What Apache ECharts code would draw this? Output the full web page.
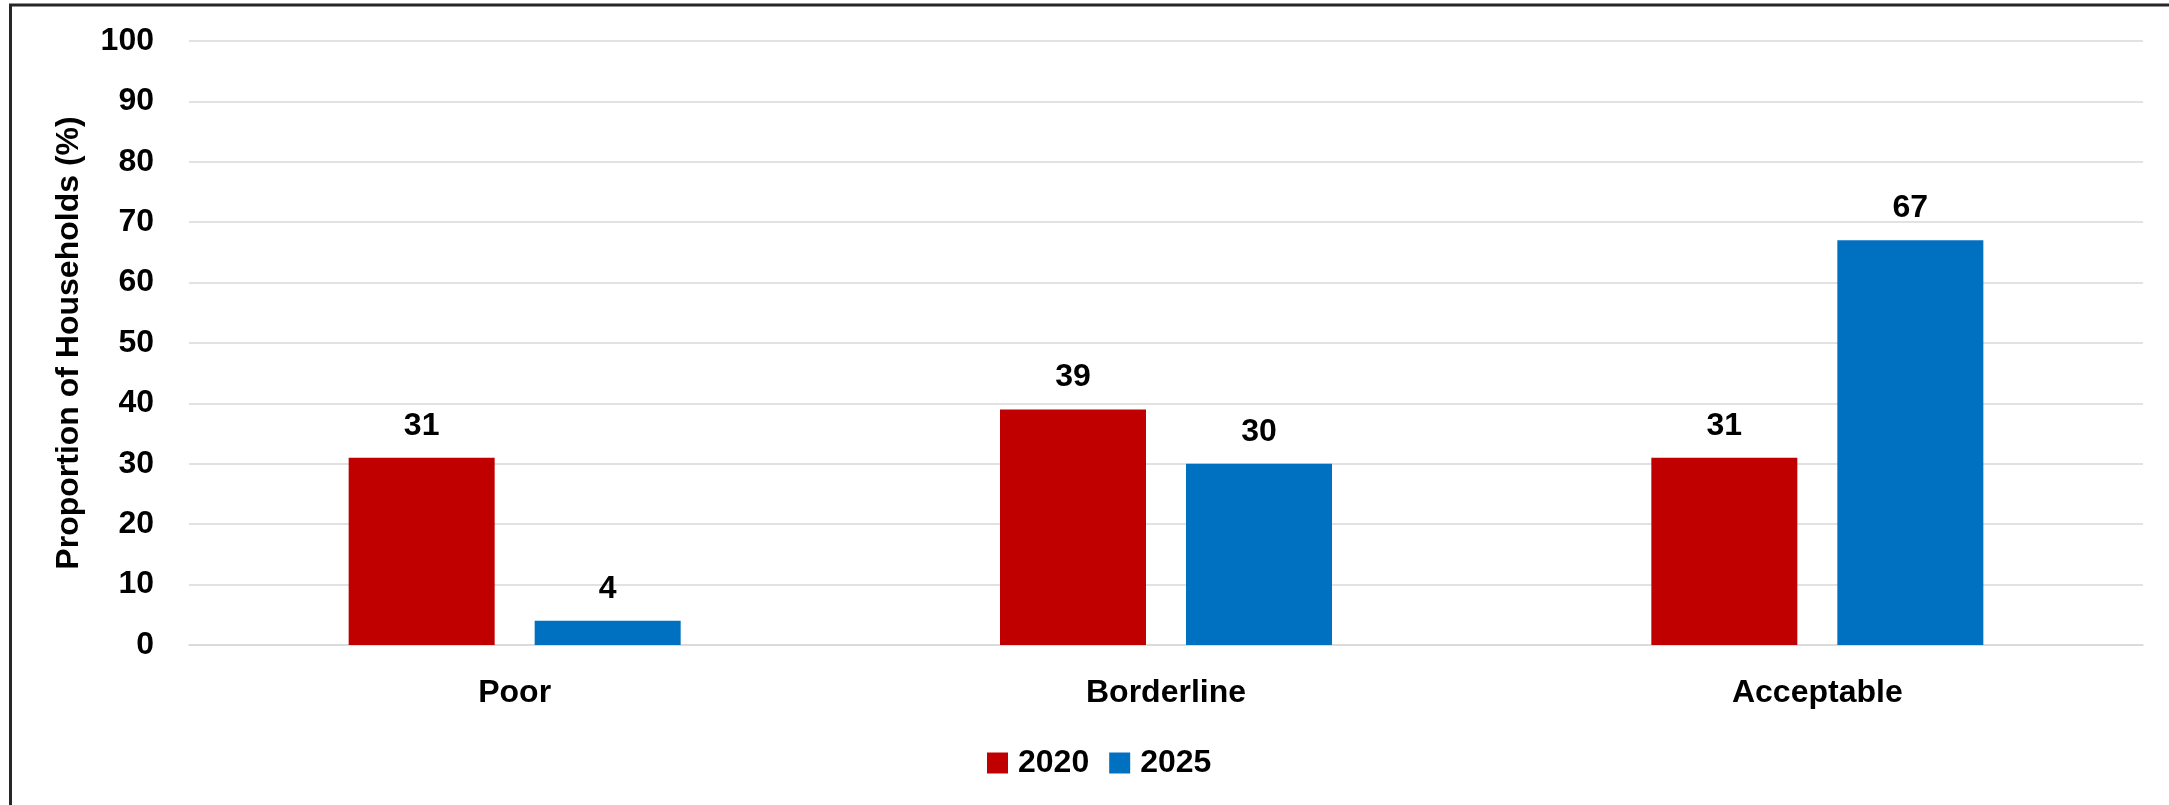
<!DOCTYPE html>
<html>
<head>
<meta charset="utf-8">
<script src="https://cdn.jsdelivr.net/npm/echarts@6/dist/echarts.min.js"></script>
<style>
html,body{margin:0;padding:0;background:#fff;}
#chart{width:2169px;height:805px;}
</style>
</head>
<body>
<div id="chart"></div>
<script>
const categories = ['Poor', 'Borderline', 'Acceptable'];
const seriesNames = ['2020', '2025'];
const values2020 = [31, 39, 31];
const values2025 = [4, 30, 67];
const yTicks = { min: 0, max: 100, interval: 10 };
const axisTitle = 'Proportion of Households (%)';

const FONT = '"Liberation Sans", Arial, sans-serif';
const chart = echarts.init(document.getElementById('chart'), null, {renderer: 'canvas'});

const labelStyle = {
  show: true, position: 'top', distance: 16,
  fontFamily: FONT, fontWeight: 'bold', fontSize: 32, color: '#000'
};

chart.setOption({
  animation: false,
  backgroundColor: '#fff',
  grid: { left: 189, right: 26, top: 41, bottom: 160, containLabel: false },
  legend: {
    data: seriesNames,
    left: 982, top: 742,
    itemWidth: 21, itemHeight: 21, itemGap: 20,
    icon: 'rect',
    textStyle: { fontFamily: FONT, fontWeight: 'bold', fontSize: 32, color: '#000', padding: [0,0,0,5] }
  },
  xAxis: {
    type: 'category',
    data: categories,
    axisLine: { show: true, lineStyle: { color: '#d9d9d9', width: 1.5 } },
    axisTick: { show: false },
    axisLabel: { margin: 32, fontFamily: FONT, fontWeight: 'bold', fontSize: 32, color: '#000' }
  },
  yAxis: {
    type: 'value',
    min: yTicks.min, max: yTicks.max, interval: yTicks.interval,
    name: axisTitle,
    nameLocation: 'middle',
    nameRotate: 90,
    nameGap: 104,
    nameTextStyle: { fontFamily: FONT, fontWeight: 'bold', fontSize: 32, color: '#000' },
    axisLine: { show: false },
    axisTick: { show: false },
    splitLine: { show: true, lineStyle: { color: '#d9d9d9', width: 1.5 } },
    axisLabel: { margin: 35, fontFamily: FONT, fontWeight: 'bold', fontSize: 32, color: '#000' }
  },
  series: [
    { name: seriesNames[0], type: 'bar', data: values2020, barWidth: 146, barGap: '27.4%',
      itemStyle: { color: '#C00000' }, label: labelStyle },
    { name: seriesNames[1], type: 'bar', data: values2025, barWidth: 146, barGap: '27.4%',
      itemStyle: { color: '#0070C0' }, label: labelStyle }
  ],
  graphic: [
    { type: 'polyline', shape: { points: [[10.5, 805], [10.5, 5], [2169, 5]] },
      style: { stroke: '#262626', lineWidth: 3, fill: null }, silent: true }
  ]
});
</script>
</body>
</html>
